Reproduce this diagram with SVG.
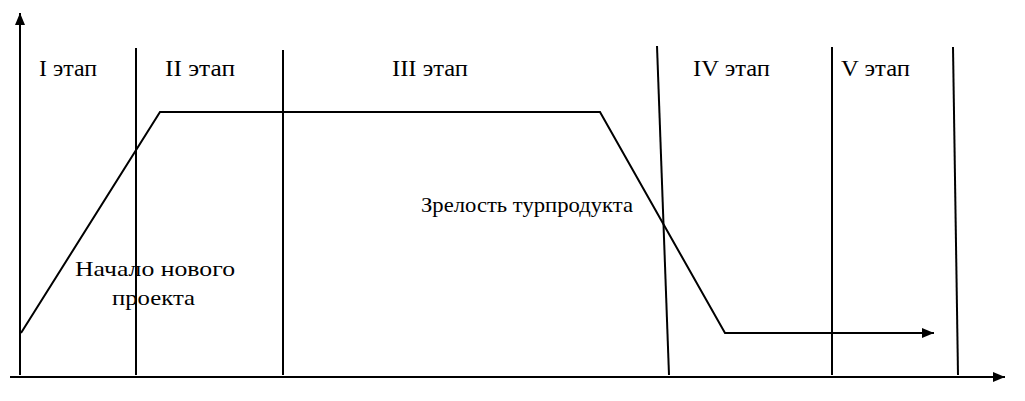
<svg xmlns="http://www.w3.org/2000/svg" width="1025" height="401" viewBox="0 0 1025 401">
<style>
.ln{stroke:#000;stroke-width:2;fill:none}
.st{font-family:"Liberation Serif","Times New Roman",serif;font-size:24px;fill:#000}
.lb{font-family:"Liberation Serif","Times New Roman",serif;font-size:21px;fill:#000}
</style>
<defs>
<marker id="ah" markerWidth="12" markerHeight="10" refX="12" refY="5" orient="auto" markerUnits="userSpaceOnUse">
<path d="M0,0 L12,5 L0,10 Z" fill="#000"/>
</marker>
</defs>
<rect width="1025" height="401" fill="#fff"/>
<g id="connectors">
<line id="y-axis" class="ln" x1="20" y1="375" x2="20" y2="13" marker-end="url(#ah)"/>
<line id="x-axis" class="ln" x1="10" y1="377" x2="1005" y2="377" marker-end="url(#ah)"/>
<line class="ln" x1="136" y1="48" x2="136" y2="375"/>
<line class="ln" x1="283" y1="50" x2="283" y2="375"/>
<line class="ln" x1="657" y1="46" x2="669" y2="375"/>
<line class="ln" x1="832" y1="47" x2="832" y2="375"/>
<line class="ln" x1="953" y1="47" x2="958" y2="375"/>
<polyline id="curve" class="ln" points="21,333 160,112 600,112 725,333 934,333" marker-end="url(#ah)"/>
</g>
<g id="stage1"><text class="st" x="39" y="76" textLength="58" lengthAdjust="spacingAndGlyphs">I этап</text></g>
<g id="stage2"><text class="st" x="165" y="76" textLength="70" lengthAdjust="spacingAndGlyphs">II этап</text></g>
<g id="stage3"><text class="st" x="392" y="76" textLength="76" lengthAdjust="spacingAndGlyphs">III этап</text></g>
<g id="stage4"><text class="st" x="693" y="76" textLength="77" lengthAdjust="spacingAndGlyphs">IV этап</text></g>
<g id="stage5"><text class="st" x="841" y="76" textLength="69" lengthAdjust="spacingAndGlyphs">V этап</text></g>
<g id="maturity"><text class="lb" x="421" y="212" textLength="212" lengthAdjust="spacingAndGlyphs">Зрелость турпродукта</text></g>
<g id="start">
<text class="lb" x="75" y="276" textLength="160" lengthAdjust="spacingAndGlyphs">Начало нового</text>
<text class="lb" x="112" y="305" textLength="83" lengthAdjust="spacingAndGlyphs">проекта</text>
</g>
</svg>
